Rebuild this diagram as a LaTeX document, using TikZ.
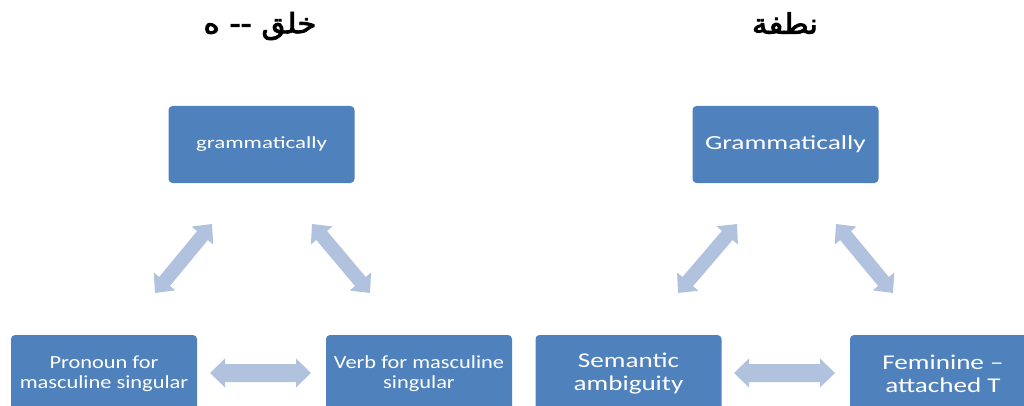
\documentclass[tikz,border=0pt]{standalone}
\usepackage{graphicx}
\usepackage{fontspec}
\setmainfont{Carlito}
\newfontfamily\arabicfont[Script=Arabic,FakeBold=3]{DejaVu Sans}
\TeXXeTstate=1
\usetikzlibrary{calc}
\definecolor{boxblue}{HTML}{4F81BD}
\definecolor{arrowblue}{HTML}{B0C2DE}
\newcommand{\sx}[2]{\scalebox{#1}[1]{#2}}
\tikzset{
  box/.style={fill=boxblue, rounded corners=4pt, minimum width=186pt, minimum height=77pt,
    text=white, align=center, inner sep=2pt},
  title/.style={font=\arabicfont\fontsize{28}{32}\selectfont, text=black},
}
% fat double arrow between two named coordinates: #1,#2 ends, #3 shaft half width, #4 head half width, #5 head length
\newcommand{\fatarrow}[5]{%
  \fill[arrowblue] (#1)
    -- ($(#1)!#5!(#2)!#4!90:(#2)$)
    -- ($(#1)!#5!(#2)!#3!90:(#2)$)
    -- ($(#2)!#5!(#1)!#3!-90:(#1)$)
    -- ($(#2)!#5!(#1)!#4!-90:(#1)$)
    -- (#2)
    -- ($(#2)!#5!(#1)!#4!90:(#1)$)
    -- ($(#2)!#5!(#1)!#3!90:(#1)$)
    -- ($(#1)!#5!(#2)!#3!-90:(#2)$)
    -- ($(#1)!#5!(#2)!#4!-90:(#2)$)
    -- cycle;}
\begin{document}
\begin{tikzpicture}[x=1pt,y=-1pt]
\useasboundingbox (0,0) rectangle (1024,406);
\clip (0,0) rectangle (1024,406);
% titles
\node[title] (t1) at (260,26) {\sx{1.1}{\beginR خلق -- ه\endR}};
\node[title] (t2) at (785,23) {\sx{1.1}{\beginR نطفة\endR}};
% left diagram
\node[box, font=\fontsize{17}{20}\selectfont] (g1) at (261.5,144.5) {\sx{1.35}{grammatically}};
\node[box, font=\fontsize{18.5}{20}\selectfont] (p1) at (104,373.5) {\sx{1.21}{Pronoun for}\\\sx{1.21}{masculine singular}};
\node[box, font=\fontsize{18.5}{20}\selectfont] (v1) at (419,373.5) {\sx{1.21}{Verb for masculine}\\\sx{1.21}{singular}};
% right diagram
\node[box, font=\fontsize{20}{24}\selectfont] (g2) at (785.5,144.5) {\sx{1.37}{Grammatically}};
\node[box, font=\fontsize{21}{23}\selectfont] (s2) at (628.5,373.5) {\sx{1.29}{Semantic}\\\sx{1.29}{ambiguity}};
\node[box, font=\fontsize{21}{23}\selectfont] (f2) at (943,373.5) {\sx{1.29}{Feminine --}\\\sx{1.29}{attached T}};
% arrow end points
\coordinate (a1s) at (155,293); \coordinate (a1e) at (212,224);
\coordinate (a2s) at (312,224); \coordinate (a2e) at (370,293);
\coordinate (a3s) at (210,373); \coordinate (a3e) at (311,373);
\coordinate (b1s) at (678,293); \coordinate (b1e) at (737,224);
\coordinate (b2s) at (836,224); \coordinate (b2e) at (893,293);
\coordinate (b3s) at (734,373); \coordinate (b3e) at (835,373);
\fatarrow{a1s}{a1e}{7pt}{14pt}{15pt}
\fatarrow{a2s}{a2e}{7pt}{14pt}{15pt}
\fatarrow{a3s}{a3e}{9pt}{14.5pt}{15pt}
\fatarrow{b1s}{b1e}{7pt}{14pt}{15pt}
\fatarrow{b2s}{b2e}{7pt}{14pt}{15pt}
\fatarrow{b3s}{b3e}{9pt}{14.5pt}{15pt}
\end{tikzpicture}
\end{document}
